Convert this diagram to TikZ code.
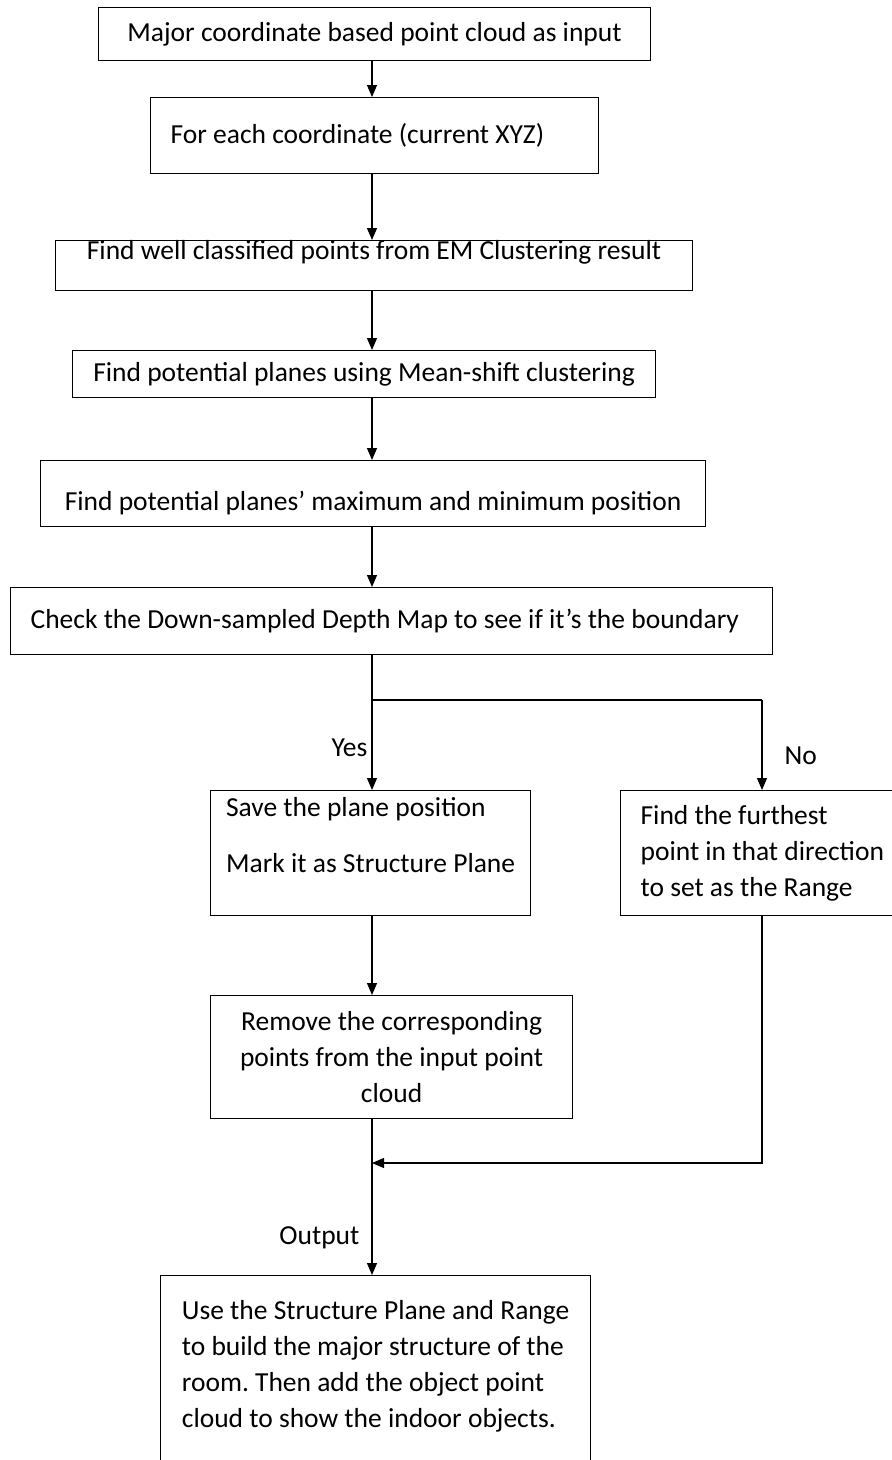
\documentclass[tikz,border=0pt]{standalone}
\usepackage{fontspec}
\setmainfont{Carlito}
\usetikzlibrary{positioning,arrows.meta}
\newcommand{\boxfont}{\frenchspacing\fontsize{27.5}{36}\selectfont}

\begin{document}
\begin{tikzpicture}[x=1pt, y=-1pt, line width=1.2pt, >={Triangle[length=12pt,width=10pt]}]
% Definition of blocks:
\tikzset{%
  box/.style   = {draw, rectangle, anchor=north west, inner xsep=20pt, inner ysep=4pt, align=center, font=\boxfont},
  lbox/.style  = {box, align=left}, % left aligned text
  lbl/.style   = {font=\boxfont, inner sep=4pt}, % connector labels
  pivot/.style = {coordinate}
}
\useasboundingbox (0,0) rectangle (892,1460);
\draw
	node [box, minimum width=552pt, minimum height=53pt] (input) at (98,7) {Major coordinate based point cloud as input}
	node [box, minimum width=448pt, minimum height=76pt] (coord) at (150,97) {\makebox[408pt][l]{For each coordinate (current XYZ)}}
	node [box, minimum width=637pt, inner ysep=0pt, text height=19pt, text depth=31pt] (wellpts) at (55,240) {Find well classified points from EM Clustering result}
	node [box, minimum width=583pt, minimum height=47pt] (meanshift) at (72,350) {Find potential planes using Mean-shift clustering}
	node [box, minimum width=665pt, inner ysep=0pt, text height=50pt, text depth=16pt] (minmax) at (40,460) {Find potential planes’ maximum and minimum position}
	node [box, minimum width=762pt, minimum height=67pt] (depth) at (10,587) {\makebox[722pt][l]{Check the Down-sampled Depth Map to see if it’s the boundary}}
	node [lbox, minimum width=320pt, minimum height=125pt, inner xsep=15pt] (save) at (210,790) {Save the plane position\\[20pt]Mark it as Structure Plane\\ \mbox{}}
	node [lbox, minimum width=276pt, minimum height=125pt] (range) at (620,790) {Find the furthest\\point in that direction\\to set as the Range}
	node [box, minimum width=362pt, minimum height=123pt] (remove) at (210,995) {Remove the corresponding\\points from the input point\\cloud}
	node [lbox, minimum width=430pt, inner ysep=25pt] (result) at (160,1275) {Use the Structure Plane and Range\\to build the major structure of the\\room. Then add the object point\\cloud to show the indoor objects.\\ \mbox{}};
\draw
	node [pivot] (spine) at (372,0) {}
	node [pivot] (split) at (372,700) {}
	node [pivot] (splitR) at (762,700) {}
	node [pivot] (merge) at (372,1163) {};

	\draw[->] (input.south -| spine) -- (coord.north -| spine);
	\draw[->] (coord.south -| spine) -- (wellpts.north -| spine);
	\draw[->] (wellpts.south -| spine) -- (meanshift.north -| spine);
	\draw[->] (meanshift.south -| spine) -- (minmax.north -| spine);
	\draw[->] (minmax.south -| spine) -- (depth.north -| spine);
	\draw (depth.south -| spine) -- (split);
	\draw (split) -- (splitR);
	\draw[->] (split) -- node[lbl, left, pos=0.53] {Yes} (save.north -| split);
	\draw[->] (splitR) -- node[lbl, right, pos=0.62, xshift=18pt] {No} (range.north -| splitR);
	\draw[->] (save.south -| spine) -- (remove.north -| spine);
	\draw[->] (range.south -| splitR) |- (merge);
	\draw[->] (remove.south -| spine) -- node[lbl, left, pos=0.76, xshift=-8pt] {Output} (result.north -| spine);
	%
\end{tikzpicture}
\end{document}
